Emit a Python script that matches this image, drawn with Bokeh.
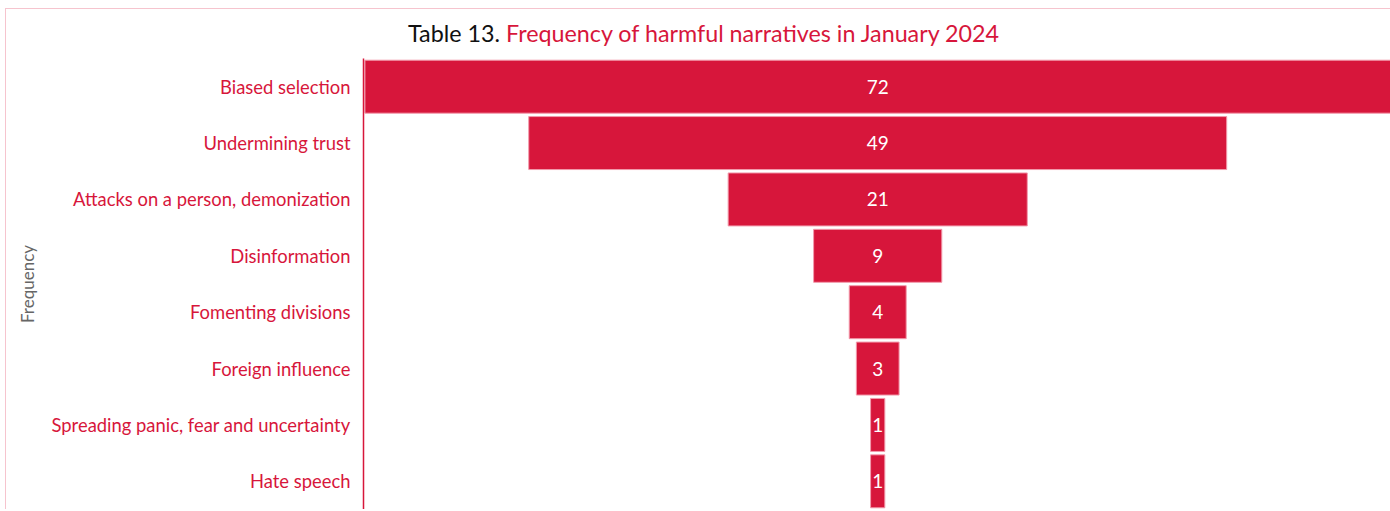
from bokeh.plotting import figure
from bokeh.models import ColumnDataSource, Range1d, FactorRange, Div
from bokeh.layouts import column
from bokeh.embed import file_html
from bokeh.resources import INLINE
from bokeh.core.properties import value

title_prefix = "Table 13."
title_main = "Frequency of harmful narratives in January 2024"
axis_title = "Frequency"
categories = ["Biased selection", "Undermining trust", "Attacks on a person, demonization",
              "Disinformation", "Fomenting divisions", "Foreign influence",
              "Spreading panic, fear and uncertainty", "Hate speech"]
counts = [72, 49, 21, 9, 4, 3, 1, 1]

RED = "#D7163B"
FONT = "Lato"

src = ColumnDataSource(dict(cat=categories, val=counts,
                            left=[-v / 2 for v in counts], right=[v / 2 for v in counts],
                            lbl=[str(v) for v in counts], zero=[0] * len(counts)))

p = figure(width=1384, height=451, output_backend="svg", toolbar_location=None,
           y_range=FactorRange(*categories[::-1]), x_range=Range1d(-36.1, 36.0),
           min_border_left=357, min_border_right=0, min_border_top=0, min_border_bottom=0,
           margin=0)

p.hbar(y="cat", left="left", right="right", height=0.94, source=src,
       fill_color=RED, line_color="#F29AAC", line_width=1)
p.text(x="zero", y="cat", text="lbl", source=src, text_color="white",
       text_align="center", text_baseline="middle", text_font=value(FONT),
       text_font_size="19px")

p.xaxis.visible = False
p.xgrid.visible = False
p.ygrid.visible = False
p.outline_line_color = None

ax = p.yaxis[0]
ax.axis_line_color = RED
ax.axis_line_width = 1.5
ax.major_tick_line_color = None
ax.minor_tick_line_color = None
ax.major_label_text_color = RED
ax.major_label_text_font = FONT
ax.major_label_text_font_size = "18.4px"
ax.major_label_standoff = 7
ax.axis_label = axis_title
ax.axis_label_text_color = "#666666"
ax.axis_label_text_font = FONT
ax.axis_label_text_font_size = "17px"
ax.axis_label_text_font_style = "normal"
ax.axis_label_standoff = 11

title_html = (f'<span style="color:#111111">{title_prefix}</span> '
              f'<span style="color:{RED}">{title_main}</span>')
div = Div(text=title_html, width=1384, height=49, margin=0,
          styles={"font-family": FONT, "font-size": "23.3px", "line-height": "23px",
                  "padding-left": "402px", "padding-top": "13px", "box-sizing": "border-box",
                  "white-space": "nowrap"})

layout = column(div, p, margin=(8, 0, 0, 5), spacing=0,
                styles={"border-top": "1px solid #F6C4CE", "border-left": "1px solid #F6C4CE"})

open("out.html", "w").write(file_html(layout, INLINE))
